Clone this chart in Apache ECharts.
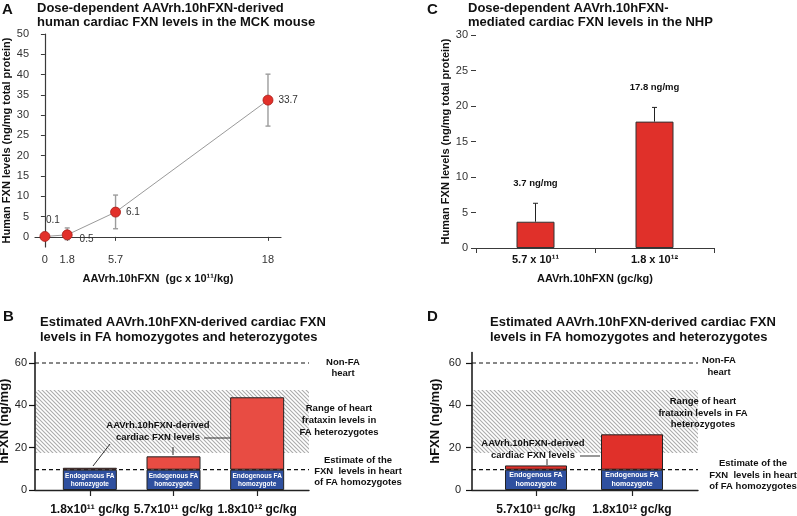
<!DOCTYPE html>
<html><head><meta charset="utf-8">
<script src="https://cdn.jsdelivr.net/npm/echarts@6/dist/echarts.min.js"></script>
<style>html,body{margin:0;padding:0;background:#fff}#c{width:797px;height:516px}</style>
</head><body><div id="c"></div>
<script>
// ---------- Panel A (mouse, dose-response) ----------
const aDoses = [0, 1.8, 5.7, 18];
const aMeans = [0.1, 0.5, 6.1, 33.7];
const aErrLow = [-0.3, -0.7, 2.0, 27.3];
const aErrHigh = [0.5, 2.2, 10.3, 40.1];
const aYTicks = [0, 5, 10, 15, 20, 25, 30, 35, 40, 45, 50];
const aXTicks = [0, 1.8, 5.7, 18];
// ---------- Panel C (NHP) ----------
const cCategories = ['5.7 x 10\u00B9\u00B9', '1.8 x 10\u00B9\u00B2'];
const cMeans = [3.7, 17.8];
const cErrHigh = [6.3, 19.8];
const cLabels = ['3.7 ng/mg', '17.8 ng/mg'];
const cYTicks = [0, 5, 10, 15, 20, 25, 30];
// ---------- Panel B (estimated, mouse doses) ----------
const bCategories = ['1.8x10\u00B9\u00B9 gc/kg', '5.7x10\u00B9\u00B9 gc/kg', '1.8x10\u00B9\u00B2 gc/kg'];
const bEndogenous = [9.6, 9.6, 9.6];
const bAdded = [0.9, 6.3, 34.2];
// ---------- Panel D (estimated, NHP doses) ----------
const dCategories = ['5.7x10\u00B9\u00B9 gc/kg', '1.8x10\u00B9\u00B2 gc/kg'];
const dEndogenous = [9.6, 9.6];
const dAdded = [2.0, 16.7];
// reference levels (B & D)
const refLines = [60, 9.6];          // non-FA heart, FA homozygote estimate
const heteroRange = [17.5, 47.2];    // FA heterozygote range
const bdYTicks = [0, 20, 40, 60];

const FONT = "Arial, 'Liberation Sans', Helvetica, sans-serif";
const RED_A = '#e2302a', RED_B = '#e84c43', RED_D = '#e0302a', BLUE = '#2f509f';

function hatchCanvas() {
  const s = 4, c = document.createElement('canvas');
  c.width = s; c.height = s;
  const ctx = c.getContext('2d');
  ctx.fillStyle = '#ffffff'; ctx.fillRect(0, 0, s, s);
  ctx.strokeStyle = '#acacac'; ctx.lineWidth = 1.1;
  ctx.beginPath();
  ctx.moveTo(0, 0); ctx.lineTo(s, s);
  ctx.moveTo(-1, s - 1); ctx.lineTo(1, s + 1);
  ctx.moveTo(s - 1, -1); ctx.lineTo(s + 1, 1);
  ctx.stroke();
  return c;
}
const HATCH = { image: hatchCanvas(), repeat: 'repeat' };

function txt(x, y, text, size, opts) {
  opts = opts || {};
  return {
    type: 'text', x: x, y: y, z: 100,
    style: {
      text: text, fill: opts.color || '#111',
      font: (opts.bold === false ? '' : 'bold ') + size + 'px ' + FONT,
      textAlign: opts.align || 'center', textVerticalAlign: 'middle'
    }
  };
}
function seg(x1, y1, x2, y2) {
  return { type: 'line', z: 100, shape: { x1: x1, y1: y1, x2: x2, y2: y2 }, style: { stroke: '#333', lineWidth: 1 } };
}

const chart = echarts.init(document.getElementById('c'), null, { renderer: 'canvas' });

const axisDark = { lineStyle: { color: '#3a3a3a', width: 1.2 } };

const bdY = (idx, show, left) => ({
  type: 'value', gridIndex: idx, min: 0, max: 65,
  show: show,
  axisLine: { show: true, lineStyle: { color: '#111', width: 1.5 } },
  axisTick: { show: true, length: 6, customValues: bdYTicks, lineStyle: { color: '#111', width: 1.2 } },
  axisLabel: { show: true, margin: left ? 8 : 11, customValues: bdYTicks, fontSize: 11, color: '#222', fontFamily: FONT },
  splitLine: { show: false },
  name: show ? 'hFXN (ng/mg)' : '', nameLocation: 'middle', nameGap: left ? 24 : 30, nameRotate: 90,
  nameTextStyle: { fontSize: 13, fontWeight: 'bold', color: '#111', fontFamily: FONT }
});
const bgX = (idx) => ({
  type: 'value', gridIndex: idx, min: 0, max: 1,
  axisLine: { show: true, lineStyle: { color: '#222', width: 1.4 } },
  axisTick: { show: false }, axisLabel: { show: false }, splitLine: { show: false }
});
const barX = (idx, data) => ({
  type: 'category', gridIndex: idx, data: data,
  axisLine: { show: false },
  axisTick: { show: true, alignWithLabel: true, length: 6, lineStyle: { color: '#222', width: 1.2 } },
  axisLabel: { interval: 0, hideOverlap: false, margin: 14, fontSize: 12, fontWeight: 'bold', color: '#111', fontFamily: FONT }
});

function bgRender(params, api) {
  const cs = params.coordSys;
  const lo = api.coord([0, api.value(1)])[1];
  const hi = api.coord([0, api.value(2)])[1];
  return { type: 'rect', shape: { x: cs.x + 1, y: hi, width: cs.width - 1, height: lo - hi }, style: { fill: HATCH } };
}
function dashRender(params, api) {
  const cs = params.coordSys;
  const y = api.coord([0, api.value(1)])[1];
  return { type: 'line', shape: { x1: cs.x, y1: y, x2: cs.x + cs.width, y2: y }, style: { stroke: '#111', lineWidth: 1.2, lineDash: [4, 3] } };
}

const option = {
  animation: false,
  backgroundColor: '#fff',
  textStyle: { fontFamily: FONT },
  grid: [
    { left: 35, top: 34, width: 246, height: 213, outerBoundsMode: 'none' },
    { left: 476, top: 35, width: 238, height: 213, outerBoundsMode: 'none' },
    { left: 35, top: 352.4, width: 274, height: 137.6, outerBoundsMode: 'none' },
    { left: 48, top: 352.4, width: 251, height: 137.6, outerBoundsMode: 'none' },
    { left: 472, top: 352.4, width: 226, height: 137.6, outerBoundsMode: 'none' },
    { left: 488, top: 352.4, width: 192, height: 137.6, outerBoundsMode: 'none' }
  ],
  xAxis: [
    {
      type: 'value', gridIndex: 0, min: -0.8, max: 19.05,
      axisLine: axisDark,
      axisTick: { show: true, length: 4, customValues: aXTicks, lineStyle: { color: '#3a3a3a' } },
      axisLabel: { customValues: aXTicks, margin: 7, fontSize: 11, color: '#333', fontFamily: FONT },
      splitLine: { show: false },
      name: 'AAVrh.10hFXN  (gc x 10\u00B9\u00B9/kg)', nameLocation: 'middle', nameGap: 26,
      nameTextStyle: { fontSize: 11, fontWeight: 'bold', color: '#111', fontFamily: FONT }
    },
    {
      type: 'category', gridIndex: 1, data: cCategories,
      axisLine: axisDark,
      axisTick: { show: true, length: 5, lineStyle: { color: '#3a3a3a' } },
      axisLabel: { interval: 0, margin: 6, fontSize: 11, fontWeight: 'bold', color: '#111', fontFamily: FONT },
      name: 'AAVrh.10hFXN (gc/kg)', nameLocation: 'middle', nameGap: 25,
      nameTextStyle: { fontSize: 11, fontWeight: 'bold', color: '#111', fontFamily: FONT }
    },
    bgX(2), barX(3, bCategories), bgX(4), barX(5, dCategories)
  ],
  yAxis: [
    {
      type: 'value', gridIndex: 0, min: -2.5, max: 50,
      axisLine: axisDark,
      axisTick: { show: true, length: 4, customValues: aYTicks, lineStyle: { color: '#3a3a3a' } },
      axisLabel: { customValues: aYTicks, margin: 6, fontSize: 11, color: '#333', fontFamily: FONT },
      splitLine: { show: false },
      name: 'Human FXN levels (ng/mg total protein)', nameLocation: 'middle', nameGap: 22, nameRotate: 90,
      nameTextStyle: { fontSize: 11, fontWeight: 'bold', color: '#111', fontFamily: FONT }
    },
    {
      type: 'value', gridIndex: 1, min: 0, max: 30, interval: 5,
      axisLine: axisDark,
      axisTick: { show: true, length: 5, lineStyle: { color: '#3a3a3a' } },
      axisLabel: { margin: 8, fontSize: 11, color: '#333', fontFamily: FONT },
      splitLine: { show: false },
      name: 'Human FXN levels (ng/mg total protein)', nameLocation: 'middle', nameGap: 23, nameRotate: 90,
      nameTextStyle: { fontSize: 11, fontWeight: 'bold', color: '#111', fontFamily: FONT }
    },
    bdY(2, true, true), bdY(3, false, true), bdY(4, true, false), bdY(5, false, false)
  ],
  series: [
    // A error bars
    {
      type: 'custom', xAxisIndex: 0, yAxisIndex: 0, z: 1,
      data: aDoses.map((d, i) => [d, aErrLow[i], aErrHigh[i]]),
      renderItem: function (params, api) {
        const x = api.value(0);
        const p1 = api.coord([x, api.value(2)]), p2 = api.coord([x, api.value(1)]);
        const w = 2.5, st = { stroke: '#9c9c9c', lineWidth: 1.4 };
        return { type: 'group', children: [
          { type: 'line', shape: { x1: p1[0], y1: p1[1], x2: p2[0], y2: p2[1] }, style: st },
          { type: 'line', shape: { x1: p1[0] - w, y1: p1[1], x2: p1[0] + w, y2: p1[1] }, style: st },
          { type: 'line', shape: { x1: p2[0] - w, y1: p2[1], x2: p2[0] + w, y2: p2[1] }, style: st }
        ] };
      }
    },
    // A line
    {
      type: 'line', xAxisIndex: 0, yAxisIndex: 0, z: 3,
      data: aDoses.map((d, i) => {
        const item = { value: [d, aMeans[i]] };
        if (i === 0) item.label = { position: 'top', offset: [8, -1] };
        if (i === 1) item.label = { position: 'right', offset: [2, 4] };
        return item;
      }),
      symbol: 'circle', symbolSize: 10,
      itemStyle: { color: RED_A, borderColor: '#a8201b', borderWidth: 0.8 },
      lineStyle: { color: '#9a9a9a', width: 1 },
      label: { show: true, position: 'right', distance: 5, fontSize: 10, color: '#333', fontFamily: FONT,
        formatter: p => String(p.value[1]) }
    },
    // C bars
    {
      type: 'bar', xAxisIndex: 1, yAxisIndex: 1, barWidth: 38, data: cMeans,
      itemStyle: { color: RED_D, borderColor: '#333', borderWidth: 1 }
    },
    // C error bars + labels
    {
      type: 'custom', xAxisIndex: 1, yAxisIndex: 1, z: 5,
      data: cMeans.map((m, i) => [i, m, cErrHigh[i]]),
      renderItem: function (params, api) {
        const i = api.value(0);
        const p1 = api.coord([i, api.value(1)]), p2 = api.coord([i, api.value(2)]);
        const w = 2.5, st = { stroke: '#222', lineWidth: 1 };
        return { type: 'group', children: [
          { type: 'line', shape: { x1: p1[0], y1: p1[1], x2: p2[0], y2: p2[1] }, style: st },
          { type: 'line', shape: { x1: p2[0] - w, y1: p2[1], x2: p2[0] + w, y2: p2[1] }, style: st },
          { type: 'text', x: p2[0], y: p2[1] - 20, style: { text: cLabels[params.dataIndex],
            font: 'bold 9.5px ' + FONT, fill: '#111', textAlign: 'center', textVerticalAlign: 'middle' } }
        ] };
      }
    },
    // B background: hatched heterozygote range, dashed reference lines
    { type: 'custom', xAxisIndex: 2, yAxisIndex: 2, z: 1, data: [[0, heteroRange[0], heteroRange[1]]], renderItem: bgRender },
    { type: 'custom', xAxisIndex: 2, yAxisIndex: 2, z: 1, data: refLines.map(v => [0, v]), renderItem: dashRender },
    // B bars
    {
      type: 'bar', xAxisIndex: 3, yAxisIndex: 3, stack: 'b', barWidth: 54, z: 3, data: bEndogenous,
      itemStyle: { color: BLUE, borderColor: '#222', borderWidth: 1 },
      label: { show: true, position: 'inside', formatter: 'Endogenous FA\nhomozygote', color: '#fff',
        fontSize: 6.5, fontWeight: 'bold', lineHeight: 8, fontFamily: FONT }
    },
    {
      type: 'bar', xAxisIndex: 3, yAxisIndex: 3, stack: 'b', barWidth: 54, z: 3, data: bAdded,
      itemStyle: { color: RED_B, borderColor: '#222', borderWidth: 1 }
    },
    // D background
    { type: 'custom', xAxisIndex: 4, yAxisIndex: 4, z: 1, data: [[0, heteroRange[0], heteroRange[1]]], renderItem: bgRender },
    { type: 'custom', xAxisIndex: 4, yAxisIndex: 4, z: 1, data: refLines.map(v => [0, v]), renderItem: dashRender },
    // D bars
    {
      type: 'bar', xAxisIndex: 5, yAxisIndex: 5, stack: 'd', barWidth: 62, z: 3, data: dEndogenous,
      itemStyle: { color: BLUE, borderColor: '#222', borderWidth: 1 },
      label: { show: true, position: 'inside', formatter: 'Endogenous FA\nhomozygote', color: '#fff',
        fontSize: 7, fontWeight: 'bold', lineHeight: 9, fontFamily: FONT }
    },
    {
      type: 'bar', xAxisIndex: 5, yAxisIndex: 5, stack: 'd', barWidth: 62, z: 3, data: dAdded,
      itemStyle: { color: RED_D, borderColor: '#222', borderWidth: 1 }
    }
  ],
  graphic: [
    // panel letters
    txt(2, 10, 'A', 15, { align: 'left' }),
    txt(427, 10, 'C', 15, { align: 'left' }),
    txt(3, 317, 'B', 15, { align: 'left' }),
    txt(427, 317, 'D', 15, { align: 'left' }),
    // titles
    txt(37, 8, 'Dose-dependent AAVrh.10hFXN-derived', 13, { align: 'left' }),
    txt(37, 22, 'human cardiac FXN levels in the MCK mouse', 13, { align: 'left' }),
    txt(468, 8, 'Dose-dependent AAVrh.10hFXN-', 13, { align: 'left' }),
    txt(468, 22, 'mediated cardiac FXN levels in the NHP', 13, { align: 'left' }),
    txt(40, 322, 'Estimated AAVrh.10hFXN-derived cardiac FXN', 13, { align: 'left' }),
    txt(40, 337, 'levels in FA homozygotes and heterozygotes', 13, { align: 'left' }),
    txt(490, 322, 'Estimated AAVrh.10hFXN-derived cardiac FXN', 13, { align: 'left' }),
    txt(490, 337, 'levels in FA homozygotes and heterozygotes', 13, { align: 'left' }),
    // B annotations
    txt(343, 362, 'Non-FA', 9.5), txt(343, 373, 'heart', 9.5),
    txt(339, 408, 'Range of heart', 9.5), txt(339, 420, 'frataxin levels in', 9.5), txt(339, 432, 'FA heterozygotes', 9.5),
    txt(358, 460, 'Estimate of the', 9.5), txt(358, 471, 'FXN  levels in heart', 9.5), txt(358, 482, 'of FA homozygotes', 9.5),
    txt(158, 425, 'AAVrh.10hFXN-derived', 9.5), txt(158, 437, 'cardiac FXN levels', 9.5),
    seg(110, 444, 93, 466), seg(173, 447, 173, 455), seg(204, 438, 230, 438),
    // D annotations
    txt(719, 360, 'Non-FA', 9.5), txt(719, 372, 'heart', 9.5),
    txt(703, 401, 'Range of heart', 9.5), txt(703, 413, 'frataxin levels in FA', 9.5), txt(703, 424, 'heterozygotes', 9.5),
    txt(753, 463, 'Estimate of the', 9.5), txt(753, 475, 'FXN  levels in heart', 9.5), txt(753, 486, 'of FA homozygotes', 9.5),
    txt(533, 443, 'AAVrh.10hFXN-derived', 9.5), txt(533, 455, 'cardiac FXN levels', 9.5),
    seg(547, 459, 547, 465), seg(580, 456, 600, 456)
  ]
};
chart.setOption(option);
</script>
</body></html>
